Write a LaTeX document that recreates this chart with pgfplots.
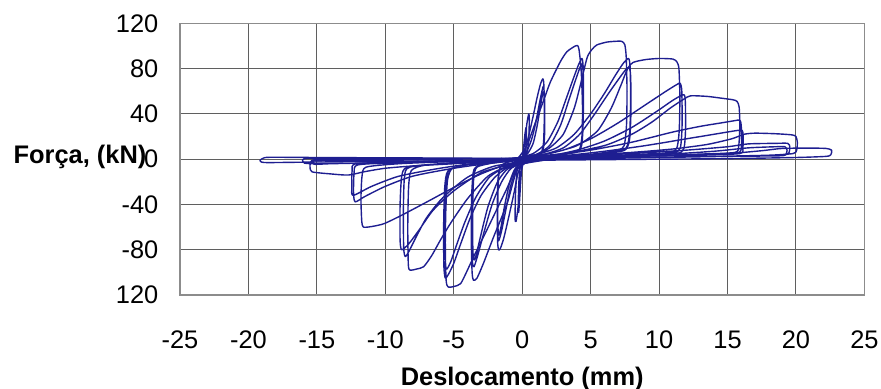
\documentclass[border=0pt]{standalone}
\usepackage{pgfplots}
\pgfplotsset{compat=1.18}
\usepackage{fontspec}
\setmainfont{Liberation Sans}
\definecolor{loopblue}{RGB}{30,30,145}
\definecolor{gridc}{RGB}{95,95,95}
\begin{document}
\begin{tikzpicture}
\useasboundingbox (-90pt,-47pt) rectangle (350.5pt,147.5pt);
\begin{axis}[
 at={(0,0)}, anchor=south west,
 scale only axis, width=342.2pt, height=135.8pt,
 xmin=-25, xmax=25, ymin=-120, ymax=120,
 xtick={-25,-20,...,25}, xticklabels={-25,-20,-15,-10,-5,0,5,10,15,20,25},
 ytick={-120,-80,...,120}, yticklabels={120,-80,-40,0,40,80,120},
 major tick length=0pt,
 grid=major, major grid style={gridc, line width=0.5pt},
 axis line style={black!45, line width=0.6pt},
 tick label style={font=\fontsize{12.7}{15}\selectfont},
 xticklabel style={yshift=-14.5pt},
 yticklabel style={xshift=-7.3pt},
 xlabel={Deslocamento (mm)}, ylabel={Força, (kN)},
 label style={font=\bfseries\fontsize{12.7}{15}\selectfont},
 xlabel style={at={(axis description cs:0.5,0)}, anchor=center, yshift=-42pt},
 ylabel style={rotate=-90, at={(axis description cs:0,0.5)}, anchor=east, xshift=-13.3pt, yshift=1.25pt},
 hyst/.style={color=loopblue, line width=0.7pt, line join=round, solid, no markers, smooth, tension=0.4},
]
% group 0 (tiny cycles)
\addplot[hyst] coordinates {(0,0) (0.1,10) (0.2,22) (0.28,28) (0.31,24) (0.27,10) (0.15,3) (0,-4) (-0.1,-18) (-0.2,-38) (-0.26,-47) (-0.29,-42) (-0.25,-22) (-0.15,-6) (0,0)
(0.15,12) (0.35,32) (0.48,40) (0.52,35) (0.47,15) (0.3,4) (0.1,-2) (-0.1,-14) (-0.3,-42) (-0.45,-55) (-0.52,-52) (-0.48,-28) (-0.35,-8) (-0.1,-1) (0,0)};
% group A
\addplot[hyst] coordinates {(0,0) (0.2,8) (0.5,22) (0.8,38) (1.1,55) (1.35,67) (1.51,71) (1.58,66) (1.62,40) (1.56,15) (1.4,6) (1.0,3) (0.5,1) (0.1,-2) (-0.3,-12) (-0.6,-30) (-1.0,-52) (-1.35,-70) (-1.6,-79) (-1.73,-80) (-1.8,-72) (-1.82,-45) (-1.77,-18) (-1.6,-7) (-1.2,-3) (-0.6,-1) (-0.2,1)
(0.3,6) (0.7,18) (1.0,33) (1.3,52) (1.5,63) (1.56,64) (1.63,55) (1.64,25) (1.52,8) (1.1,3) (0.5,1) (0,-2) (-0.4,-8) (-0.8,-22) (-1.2,-45) (-1.5,-63) (-1.72,-72) (-1.8,-62) (-1.8,-30) (-1.7,-10) (-1.3,-4) (-0.6,-1) (0,1)
(0.4,5) (0.8,14) (1.1,30) (1.35,48) (1.5,58) (1.58,59) (1.64,48) (1.63,20) (1.5,7) (1.0,2) (0.2,-2) (-0.5,-8) (-0.9,-20) (-1.3,-42) (-1.55,-60) (-1.7,-67) (-1.78,-58) (-1.77,-28) (-1.65,-9) (-1.2,-3) (-0.3,1)};
% group B
\addplot[hyst] coordinates {(-0.3,1) (0.34,12) (1.07,36) (1.6,53) (2.05,68) (2.78,86) (3.27,95) (3.87,100) (4.04,100.5) (4.15,97) (4.3,80) (4.4,50) (4.38,22) (4.2,9) (3.8,6) (3,4) (2,2) (1,0.5) (0.3,-3) (-0.4,-10) (-1.1,-39) (-2.1,-69) (-2.83,-92) (-3.3,-105) (-3.56,-107) (-3.66,-100) (-3.72,-70) (-3.7,-35) (-3.58,-12) (-3.3,-6) (-2.2,-3) (-1,-1) (-0.4,1)
(0.8,5) (1.8,15) (2.6,33) (3.2,53) (3.7,70) (4.1,83) (4.36,89) (4.45,82) (4.48,55) (4.42,22) (4.2,9) (3.4,5) (2,2) (0.8,0) (0.2,-3) (-0.8,-8) (-1.5,-20) (-2.2,-40) (-2.8,-65) (-3.25,-85) (-3.52,-95) (-3.64,-90) (-3.68,-60) (-3.62,-25) (-3.4,-8) (-2.5,-4) (-1.2,-2) (-0.2,1)
(1,4) (2,12) (2.8,30) (3.4,52) (3.9,70) (4.25,82) (4.38,84) (4.46,75) (4.47,45) (4.38,15) (4.1,7) (3,4) (1.5,1) (0.4,-3) (-1,-8) (-1.8,-20) (-2.5,-42) (-3,-66) (-3.35,-84) (-3.5,-89) (-3.6,-82) (-3.62,-50) (-3.55,-18) (-3.3,-7) (-2,-3) (-0.5,1)};
% group C
\addplot[hyst] coordinates {(-0.5,1) (1,4) (2,10) (3,22) (3.8,45) (4.3,68) (4.75,90) (5.1,97) (5.46,101) (6.2,103.5) (7.0,104.3) (7.3,104) (7.5,101) (7.6,90) (7.66,60) (7.62,30) (7.45,12) (7.0,8) (5.5,5) (3.5,3) (1.5,1) (0.3,-3) (-0.5,-10) (-1.2,-28) (-2,-48) (-2.8,-68) (-3.5,-85) (-4,-98) (-4.5,-110) (-5,-112.5) (-5.39,-113) (-5.55,-108) (-5.62,-80) (-5.58,-45) (-5.45,-18) (-5.1,-8) (-4,-5) (-2.5,-3) (-1,-1) (-0.3,1)
(1,4) (2.5,10) (3.8,22) (5,40) (6,58) (6.8,74) (7.4,85) (7.77,89) (7.88,82) (7.92,55) (7.86,25) (7.6,10) (6.5,6) (4.5,4) (2,1.5) (0.4,-3) (-1,-7) (-2,-16) (-3,-32) (-3.8,-52) (-4.5,-75) (-5,-92) (-5.4,-102) (-5.62,-105) (-5.72,-95) (-5.74,-60) (-5.66,-25) (-5.4,-10) (-4,-5) (-2,-3) (-0.4,1)
(1.5,4) (3,10) (4.2,22) (5.3,40) (6.3,58) (7,70) (7.55,79) (7.8,81) (7.92,74) (7.95,45) (7.85,18) (7.5,8) (6,5) (3.5,3) (1,0) (0.2,-3) (-1.2,-7) (-2.4,-16) (-3.4,-34) (-4.2,-56) (-4.8,-76) (-5.2,-90) (-5.5,-97) (-5.6,-92) (-5.62,-58) (-5.55,-22) (-5.3,-9) (-3.5,-4) (-1.5,-2) (0,1)};
% group D
\addplot[hyst] coordinates {(0,1) (2,5) (4,12) (5.5,25) (6.5,45) (7.2,65) (7.7,80) (8.1,85.5) (9,88) (10,89) (11,88.5) (11.3,86) (11.45,80) (11.52,55) (11.47,25) (11.3,10) (10.8,6) (9,4.5) (6,3) (3,1.5) (0.5,-3) (-1,-6) (-2.5,-15) (-4,-35) (-5.2,-56) (-6,-72) (-6.6,-85) (-7.2,-95) (-7.7,-97) (-8.2,-98) (-8.32,-93) (-8.36,-60) (-8.3,-25) (-8.1,-10) (-7,-5) (-4,-3) (-1,-1) (-0.2,1)
(1,3) (3,8) (5,18) (7,32) (9,48) (10.5,60) (11.3,66) (11.55,67) (11.66,60) (11.68,30) (11.55,10) (11,6) (8,4) (4,2) (0.3,-2) (-1,-5) (-3,-12) (-5,-28) (-6.5,-45) (-7.5,-62) (-8.3,-75) (-8.8,-80) (-8.92,-72) (-8.92,-40) (-8.8,-15) (-8.4,-7) (-6,-4) (-3,-2) (-0.4,1)
(2,3) (4,8) (6,16) (8,28) (9.8,42) (11,52) (11.8,57) (11.92,50) (11.93,25) (11.8,9) (11.2,5) (8,3.5) (4,2) (0.6,-2) (-2,-6) (-4,-16) (-5.8,-34) (-7,-52) (-7.8,-70) (-8.3,-82) (-8.55,-86) (-8.66,-78) (-8.68,-45) (-8.6,-16) (-8.2,-7) (-5,-3) (-0.6,1)};
% group E
\addplot[hyst] coordinates {(-0.6,1) (3,5) (6,12) (8,22) (9.5,33) (10.8,45) (11.8,53) (12.3,56) (13.5,55.5) (14.5,54) (15.4,52.5) (15.7,51) (15.85,46) (15.9,30) (15.82,12) (15.55,6) (13,4.5) (9,3) (5,2) (0.4,-2) (-1,-4) (-3,-13) (-5,-25) (-7,-38) (-8.8,-49.5) (-10.1,-57) (-11,-59.5) (-11.6,-60) (-11.72,-55) (-11.78,-35) (-11.7,-15) (-11.4,-7) (-9,-4) (-5,-2) (0,0)
(2,3) (5,8) (8,15) (11,24) (13,29) (14.5,32) (15.5,34) (15.9,34.5) (16.0,30) (16.02,15) (15.85,6) (14,4) (10,3) (5,1.5) (0.2,-1) (-2,-3) (-5,-8) (-8,-15) (-10,-24) (-11.5,-33) (-12.2,-37.7) (-12.32,-30) (-12.28,-12) (-12,-5) (-9,-3) (-4,-1) (0,0)
(3,3) (6,7) (9,12) (12,18) (14,22) (15.5,25) (16.06,25.6) (16.14,21) (16.12,10) (15.9,5) (13,3.5) (8,2.5) (4,1) (0,-1) (-3,-3) (-6,-8) (-9,-15) (-11,-24) (-12.35,-32) (-12.45,-25) (-12.42,-10) (-12.1,-4) (-8,-2) (0,0)};
% group F
\addplot[hyst] coordinates {(0,0) (4,3) (8,6) (11,9) (13.5,13) (15.3,18) (16.2,22) (17,23) (18.5,22.5) (19.7,21.5) (20.0,20) (20.1,15) (20.05,8) (19.8,5) (18,3.5) (14,2.5) (10,1.8) (5,1) (0,-1) (-2,-2) (-5,-4) (-8,-6) (-10,-8) (-11.5,-11) (-12.7,-14) (-14,-13) (-15.35,-11.2) (-15.5,-7) (-15.45,-3) (-15,-1.5) (-10,-1) (-5,0) (0,1)
(4,2.5) (8,5) (12,8) (15,11) (16.5,13.5) (18.5,14) (19.4,14) (19.55,11) (19.5,6) (19.2,4) (17,3) (12,2) (6,1) (0,-0.5) (-4,-1.5) (-8,-2.5) (-12,-3.5) (-15,-4) (-15.9,-3.5) (-16.05,-1) (-15.9,0.6) (-15.5,0.8) (-12,0.7) (-8,0.5) (-4,0.5) (0,0.5)
(5,2) (10,4) (14,7) (16.5,10) (18.5,11) (19.2,11) (19.35,8) (19.25,4) (18.8,3) (15,2.5) (10,1.5) (5,0.5) (0,-0.5) (-5,-2) (-10,-3) (-14,-4) (-15.2,-4.5) (-15.35,-2) (-15,-0.5) (-10,0) (-5,0.5) (0,0.5)};
% group G
\addplot[hyst] coordinates {(0,0.5) (5,1.5) (10,3) (15,5) (17.5,7.5) (19,9.5) (21,9.8) (22.2,9.5) (22.6,8) (22.55,4) (22.2,2.5) (20,1.5) (15,0.5) (10,0) (5,-0.5) (0,-1) (-5,-1.5) (-10,-2) (-15,-2.5) (-18.5,-3) (-19.05,-2.5) (-19.15,-0.9) (-18.9,1) (-18.4,1.7) (-15,1.5) (-10,1.2) (-5,1) (0,0.5)};
\end{axis}
\end{tikzpicture}
\end{document}
